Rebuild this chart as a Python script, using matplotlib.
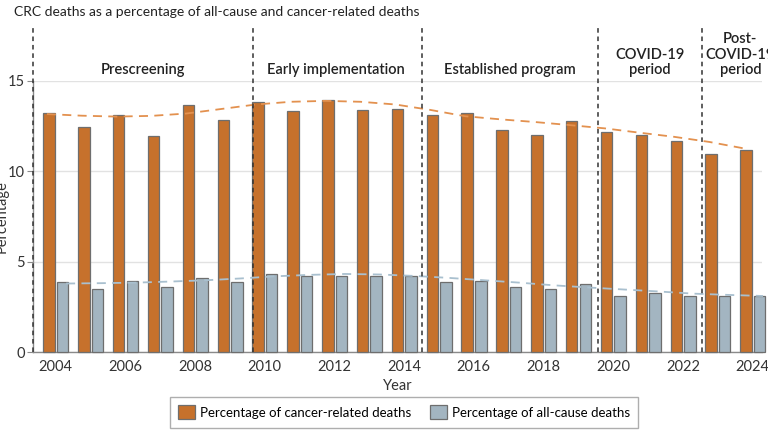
import numpy as np
import matplotlib.pyplot as plt

years = np.arange(2004, 2025)
cancer_pct = [13.21, 12.43, 13.11, 11.97, 13.68, 12.84, 13.82, 13.34, 13.96, 13.39, 13.45,
              13.13, 13.22, 12.27, 12.01, 12.80, 12.19, 12.02, 11.66, 10.97, 11.17]
allcause_pct = [3.86, 3.49, 3.95, 3.62, 4.08, 3.90, 4.30, 4.19, 4.23, 4.18, 4.23,
                3.90, 3.95, 3.60, 3.51, 3.75, 3.12, 3.27, 3.09, 3.09, 3.10]
# smoothed trend
cancer_trend = [13.17, 13.08, 13.03, 13.07, 13.20, 13.45, 13.70, 13.85, 13.90, 13.85, 13.70,
                13.40, 13.05, 12.88, 12.73, 12.56, 12.38, 12.14, 11.91, 11.63, 11.27]
allcause_trend = [3.79, 3.81, 3.84, 3.90, 3.97, 4.07, 4.19, 4.27, 4.32, 4.29, 4.21,
                  4.10, 3.97, 3.84, 3.69, 3.57, 3.46, 3.35, 3.23, 3.16, 3.10]

period_breaks = [2003.35, 2009.66, 2014.5, 2019.57, 2022.54]
period_labels = ['Prescreening', 'Early implementation', 'Established program',
                 'COVID-19\nperiod', 'Post-\nCOVID-19\nperiod']
period_centers = [2006.5, 2012.05, 2017.04, 2021.05, 2023.65]

orange = '#c6712c'
blue = '#a3b5c1'
edge = '#6e6e6e'

plt.rcParams['font.family'] = ['Lato', 'DejaVu Sans']

fig = plt.figure(figsize=(7.68, 4.32), dpi=100)
ax = fig.add_axes([33 / 768, 80 / 432, 729 / 768, 271 / 432])

w = 0.33
ax.bar(years - 0.19, cancer_pct, width=w, color=orange, edgecolor=edge, linewidth=0.9,
       label='Percentage of cancer-related deaths', zorder=3, clip_on=False)
ax.bar(years + 0.2, allcause_pct, width=w, color=blue, edgecolor=edge, linewidth=0.9,
       label='Percentage of all-cause deaths', zorder=3, clip_on=False)

ax.plot(years - 0.25, cancer_trend, ls=(0, (5, 3.5)), color='#e3914f', lw=1.3, zorder=4)
ax.plot(years + 0.3, allcause_trend, ls=(0, (5, 3.5)), color='#a9c0cf', lw=1.3, zorder=4,
        clip_on=False)

for xb in period_breaks:
    ax.plot([xb, xb], [0, 17.95], ls=(0, (3, 2.5)), color='#333333', lw=1.1,
            clip_on=False, zorder=5)

for xc, lab in zip(period_centers, period_labels):
    ax.text(xc, 15.2, lab, ha='center', va='bottom', fontsize=10.5, color='#222222',
            fontweight='semibold', linespacing=1.15, clip_on=False)

ax.set_xlim(2003.35, 2024.27)
ax.set_ylim(0, 15)
ax.set_yticks([0, 5, 10, 15])
ax.set_xticks(range(2004, 2025, 2))
ax.grid(axis='y', color='#e2e2e2', lw=1, zorder=0)
ax.set_axisbelow(True)

for s in ['top', 'right']:
    ax.spines[s].set_visible(False)
for s in ['left', 'bottom']:
    ax.spines[s].set_color('#8a8a8a')
    ax.spines[s].set_linewidth(1)
ax.tick_params(axis='x', length=0, pad=6, labelsize=10.5, labelcolor='#333333')
ax.tick_params(axis='y', length=4, color='#8a8a8a', pad=2, labelsize=10.5, labelcolor='#333333')

ax.set_xlabel('Year', fontsize=10.5, color='#333333', labelpad=3)
ax.set_ylabel('Percentage', fontsize=10.5, color='#333333')
ax.yaxis.set_label_coords(-24 / 729, 0.5)

fig.text(14 / 768, 1 - 12 / 432, 'CRC deaths as a percentage of all-cause and cancer-related deaths',
         fontsize=10, color='#222222', va='center', ha='left')

leg = ax.legend(loc='upper center', bbox_to_anchor=(0.509, -0.166), ncol=2, frameon=True,
                fancybox=False, edgecolor='#9a9a9a', fontsize=9.5, handlelength=1.29,
                handleheight=1.29, columnspacing=1.44, borderpad=0.62, handletextpad=0.38,
                borderaxespad=0)
leg.get_frame().set_linewidth(1)

fig.savefig('out.png', dpi=100)
